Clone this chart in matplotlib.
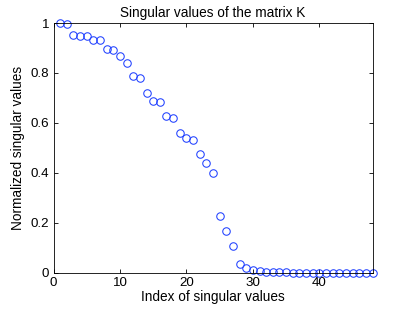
import numpy as np
import matplotlib
matplotlib.use("Agg")
import matplotlib.pyplot as plt

plt.rcParams['font.family'] = ['Liberation Sans', 'DejaVu Sans']

# normalized singular values (index 1..48)
index = np.arange(1, 49)
sv = [1.0, 0.997, 0.953, 0.949, 0.949, 0.932, 0.931, 0.894, 0.893, 0.867,
      0.841, 0.788, 0.779, 0.718, 0.688, 0.684, 0.626, 0.621, 0.558, 0.538,
      0.533, 0.474, 0.438, 0.398, 0.225, 0.166, 0.106, 0.035, 0.017, 0.011,
      0.006, 0.003, 0.002, 0.001, 0.001, 0.0, 0.0, 0.0, 0.0, 0.0,
      0.0, 0.0, 0.0, 0.0, 0.0, 0.0, 0.0, 0.0]
xticks = [0, 10, 20, 30, 40]
yticks = [0, 0.2, 0.4, 0.6, 0.8, 1]
ytick_labels = ['0', '0.2', '0.4', '0.6', '0.8', '1']

fig = plt.figure(figsize=(4.11, 3.10), dpi=100)
ax = fig.add_axes([53.5 / 411, 1 - 272.5 / 310, (372.5 - 53.5) / 411, (272.5 - 23) / 310])
ax.plot(index, sv, 'o', mfc='none', mec='#2040ff', ms=5.4, mew=0.75, clip_on=False)
ax.set_xlim(0, 48)
ax.set_ylim(0, 1)
ax.set_xticks(xticks)
ax.set_yticks(yticks)
ax.set_yticklabels(ytick_labels)
ax.tick_params(direction='in', length=3, width=0.6, top=True, right=True,
               labelsize=9.6, pad=3)
for s in ax.spines.values():
    s.set_linewidth(0.6)
ax.set_title('Singular values of the matrix K', fontsize=9.8, pad=4)
ax.set_xlabel('Index of singular values', fontsize=9.8, labelpad=1)
ax.set_ylabel('Normalized singular values', fontsize=9.8, labelpad=4)

fig.savefig('out.png', dpi=100)
